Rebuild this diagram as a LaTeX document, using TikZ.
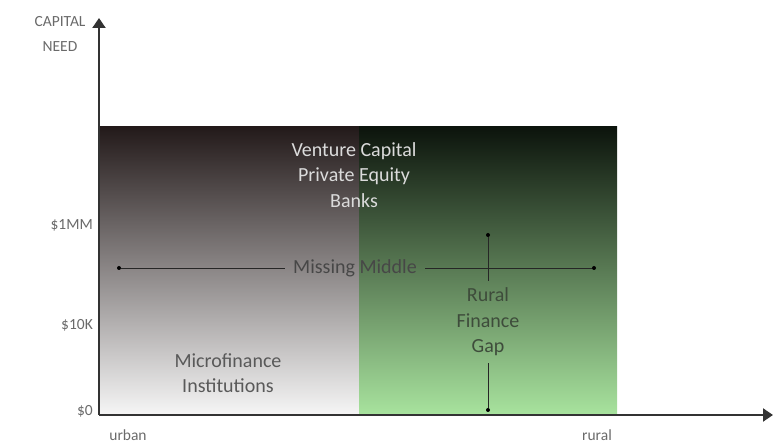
\documentclass[tikz,border=0pt]{standalone}
\usepackage{fontspec}
\setmainfont{Carlito}
\usetikzlibrary{arrows.meta}
\definecolor{axisgrey}{HTML}{333333}
\definecolor{labelgrey}{HTML}{6A6A6A}
\definecolor{urbantop}{HTML}{231A1A}
\definecolor{urbanbot}{HTML}{F6F6F6}
\definecolor{ruraltop}{HTML}{0C140C}
\definecolor{ruralbot}{HTML}{A8E39E}
\definecolor{gaptext}{HTML}{3E4C3B}
\begin{document}
\begin{tikzpicture}[x=1pt,y=1pt,
  axis/.style={draw=axisgrey,line width=2pt,-{Triangle[width=13pt,length=10pt]}},
  axislabel/.style={text=labelgrey,font=\fontsize{15.5}{25}\selectfont,inner sep=0pt},
  boxtext/.style={font=\fontsize{20}{25.5}\selectfont,align=center,inner sep=0pt},
  guide/.style={draw=black!85,line width=0.8pt},
  tick/.style={circle,fill=black,inner sep=0pt,minimum size=4pt}]
\useasboundingbox (0,0) rectangle (773,443);
% shaded regions: urban (left) and rural (right)
\shade[top color=urbantop,bottom color=urbanbot] (99,28) rectangle (359,316);
\shade[top color=ruraltop,bottom color=ruralbot] (359,28) rectangle (617,316);
% axes
\coordinate (origin) at (99,28);
\coordinate (ytop) at (99,425);
\coordinate (xend) at (773,28);
\draw[axis] (origin) -- (ytop);
\draw[axis] (origin) -- (xend);
% axis labels
\node[axislabel,align=center] (cap) at (60,409) {CAPITAL\\NEED};
\node[axislabel,anchor=east] (m1) at (93,218) {\$1MM};
\node[axislabel,anchor=east] (k10) at (93,118) {\$10K};
\node[axislabel,anchor=east] (zero) at (93,32) {\$0};
\node[axislabel] (urban) at (128,8) {urban};
\node[axislabel] (rural) at (597,8) {rural};
% region texts
\node[boxtext,text=white!86!black] (vc) at (354,268) {Venture Capital\\Private Equity\\Banks};
\node[boxtext,text=black!65] (mfi) at (228,70) {Microfinance\\Institutions};
\node[boxtext,text=black!72,inner xsep=8pt] (mm) at (355,175) {Missing Middle};
\node[boxtext,text=gaptext,inner ysep=7pt] (rfg) at (488,121) {Rural\\Finance\\Gap};
% missing-middle span
\node[tick] (mmL) at (119,175) {};
\node[tick] (mmR) at (594,175) {};
\draw[guide] (mmL) -- (mm.west);
\draw[guide] (mm.east) -- (mmR);
% rural finance gap span
\node[tick] (gapT) at (488,208) {};
\node[tick] (gapB) at (488,33) {};
\draw[guide] (gapT) -- (rfg.north);
\draw[guide] (rfg.south) -- (gapB);
\end{tikzpicture}
\end{document}
